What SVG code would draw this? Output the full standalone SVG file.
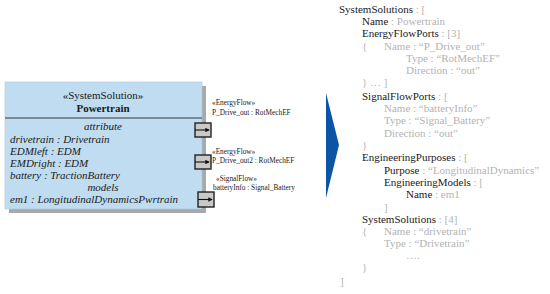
<svg xmlns="http://www.w3.org/2000/svg" width="550" height="294" viewBox="0 0 550 294">
<defs>
<style>
.t{font-family:"Liberation Serif","Times New Roman",serif;fill:#1a1a1a}
.c{text-anchor:middle}
.box{font-size:11px}
.it{font-style:italic}
.pl{font-size:7.3px}
.j{font-size:11px}
.g{fill:#b3b3b3}
.port{fill:#c9c9c9;stroke:#222;stroke-width:1.4}
.parr{stroke:#111;stroke-width:1.1}
</style>
<marker id="ah" viewBox="0 0 6 6" refX="5" refY="3" markerWidth="4" markerHeight="4" orient="auto">
<path d="M0,0 L6,3 L0,6 z" fill="#111"/>
</marker>
</defs>
<rect width="550" height="294" fill="#ffffff"/>

<g id="powertrain">
<rect x="9" y="86" width="197" height="127" fill="#a9a9a9"/>
<rect x="5" y="82" width="197" height="127" fill="#bfdcf1" stroke="#a8c8e0" stroke-width="0.6"/>
<line x1="5" y1="118" x2="202" y2="118" stroke="#3a3a3a" stroke-width="1"/>
<text class="t box c" x="103" y="99">«SystemSolution»</text>
<text class="t box c" x="103" y="112" font-weight="bold">Powertrain</text>
<text class="t box it c" x="103" y="130">attribute</text>
<text class="t box it" x="10" y="143">drivetrain : Drivetrain</text>
<text class="t box it" x="10" y="155">EDMleft : EDM</text>
<text class="t box it" x="10" y="167">EMDright : EDM</text>
<text class="t box it" x="10" y="179">battery : TractionBattery</text>
<text class="t box it c" x="103" y="191">models</text>
<text class="t box it" x="10" y="203">em1 : LongitudinalDynamicsPwrtrain</text>
</g>

<g id="port-p-drive-out">
<rect class="port" x="195" y="123" width="16" height="14"/>
<line class="parr" x1="195" y1="130" x2="209" y2="130" marker-end="url(#ah)"/>
<text class="t pl" x="212" y="105">«EnergyFlow»</text>
<text class="t pl" x="212" y="115">P_Drive_out : RotMechEF</text>
</g>

<g id="port-p-drive-out2">
<rect class="port" x="195" y="155" width="16" height="14"/>
<line class="parr" x1="195" y1="162" x2="209" y2="162" marker-end="url(#ah)"/>
<text class="t pl" x="212" y="154">«EnergyFlow»</text>
<text class="t pl" x="212" y="163">P_Drive_out2 : RotMechEF</text>
</g>

<g id="port-battery-info">
<rect class="port" x="198" y="192" width="16" height="15"/>
<line class="parr" x1="198" y1="199.5" x2="212" y2="199.5" marker-end="url(#ah)"/>
<text class="t pl" x="216" y="181">«SignalFlow»</text>
<text class="t pl" x="213" y="190">batteryInfo : Signal_Battery</text>
</g>

<g id="connectors">
<polygon points="326,93 339,145 326,198" fill="#0b55a6"/>
</g>

<g id="json">
<text class="t j" x="339" y="13">SystemSolutions<tspan class="g"> : [</tspan></text>
<text class="t j" x="362" y="25">Name<tspan class="g"> : Powertrain</tspan></text>
<text class="t j" x="362" y="37">EnergyFlowPorts<tspan class="g"> : [3]</tspan></text>
<text class="t j g" x="362" y="50">{</text>
<text class="t j g" x="384" y="50">Name : “P_Drive_out”</text>
<text class="t j g" x="406" y="62">Type : “RotMechEF”</text>
<text class="t j g" x="406" y="74">Direction : “out”</text>
<text class="t j g" x="362" y="86">} … ]</text>
<text class="t j" x="362" y="100">SignalFlowPorts<tspan class="g"> : [</tspan></text>
<text class="t j g" x="384" y="112">Name : “batteryInfo”</text>
<text class="t j g" x="384" y="124">Type : “Signal_Battery”</text>
<text class="t j g" x="384" y="137">Direction : “out”</text>
<text class="t j g" x="362" y="149">}</text>
<text class="t j" x="362" y="161">EngineeringPurposes<tspan class="g"> : [</tspan></text>
<text class="t j" x="384" y="174">Purpose<tspan class="g"> : “LongitudinalDynamics”</tspan></text>
<text class="t j" x="384" y="186">EngineeringModels<tspan class="g"> : [</tspan></text>
<text class="t j" x="406" y="198">Name<tspan class="g"> : em1</tspan></text>
<text class="t j g" x="384" y="211">]</text>
<text class="t j" x="362" y="223">SystemSolutions<tspan class="g"> : [4]</tspan></text>
<text class="t j g" x="362" y="235">{</text>
<text class="t j g" x="384" y="235">Name : “drivetrain”</text>
<text class="t j g" x="384" y="247">Type : “Drivetrain”</text>
<text class="t j g" x="406" y="259">….</text>
<text class="t j g" x="362" y="271">}</text>
<text class="t j g" x="340" y="285">]</text>
</g>
</svg>
